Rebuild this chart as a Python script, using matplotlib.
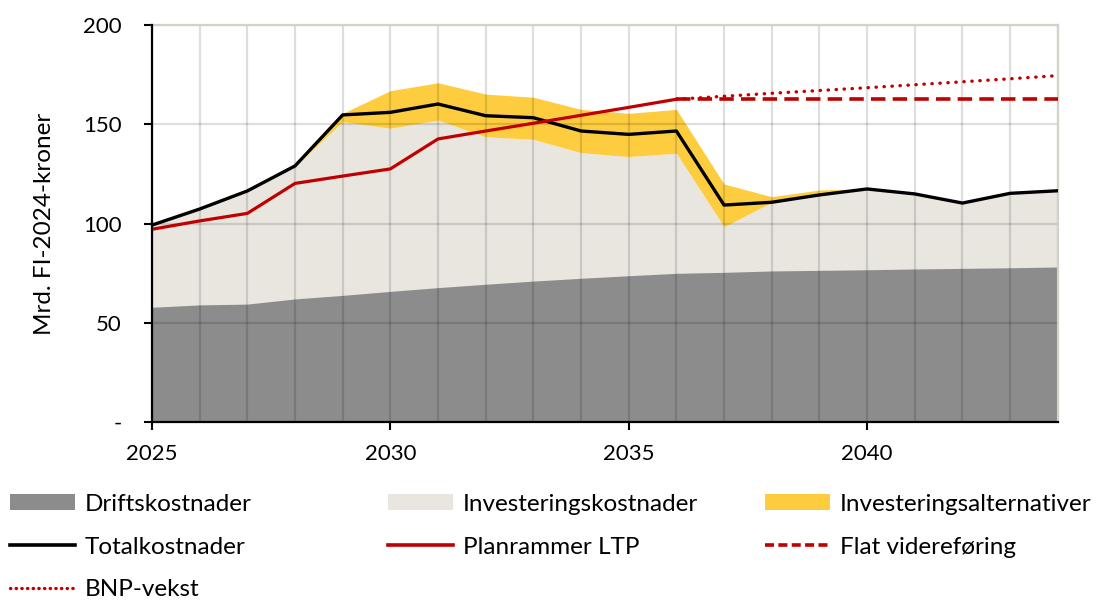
import matplotlib
matplotlib.use('Agg')
import matplotlib.pyplot as plt
from matplotlib.patches import Patch
from matplotlib.lines import Line2D

plt.rcParams['font.family'] = ['Lato', 'DejaVu Sans']

years = list(range(2025, 2045))
drift = [57.8, 59.0, 59.4, 62.0, 63.8, 65.8, 67.7, 69.4, 71.0, 72.4,
         73.7, 74.9, 75.4, 76.1, 76.4, 76.7, 77.1, 77.4, 77.7, 78.1]
invest_top = [99.2, 107.3, 116.4, 129.0, 151.3, 148.0, 152.1, 143.7, 142.4, 135.7,
              133.7, 135.4, 98.4, 110.7, 114.4, 117.4, 114.9, 110.3, 115.2, 116.5]
alt_top = [99.2, 107.3, 116.4, 129.0, 155.5, 166.9, 170.9, 165.2, 163.6, 157.5,
           155.5, 157.5, 119.9, 113.5, 116.9, 117.4, 114.9, 110.3, 115.2, 116.5]
total = [99.2, 107.3, 116.4, 129.0, 154.7, 156.0, 160.2, 154.3, 153.3, 146.6,
         144.9, 146.6, 109.3, 110.7, 114.4, 117.4, 114.9, 110.3, 115.2, 116.5]

ltp_years = list(range(2025, 2037))
ltp = [97.1, 101.3, 105.1, 120.2, 123.9, 127.5, 142.6, 146.6, 150.5, 154.5, 158.5, 162.6]

ext_years = list(range(2036, 2045))
flat = [162.6] * 9
bnp = [162.6, 164.1, 165.6, 167.0, 168.4, 169.9, 171.4, 172.9, 174.5]

c_drift = '#8c8c8c'
c_inv = '#e8e6df'
c_alt = '#fdcd3f'
c_red = '#c00000'

fig = plt.figure(figsize=(11.03, 6.01), dpi=100)
ax = fig.add_axes([0.1378, 0.2978, 0.8212, 0.6606])

ax.fill_between(years, 0, invest_top, color=c_inv, lw=0, zorder=1)
ax.fill_between(years, invest_top, alt_top, color=c_alt, lw=0, zorder=1)
ax.fill_between(years, 0, drift, color=c_drift, lw=0, zorder=1.5)

ax.plot(years, total, color='black', lw=2.4, zorder=4)
ax.plot(ltp_years, ltp, color=c_red, lw=2.3, zorder=4)
ax.plot(ext_years, flat, color=c_red, lw=2.6, ls=(0, (4, 2)), zorder=4)
ax.plot(ext_years, bnp, color=c_red, lw=2.4, ls=(0, (0.1, 2.3)),
        dash_capstyle='round', zorder=4)

ax.set_xlim(2025, 2044)
ax.set_ylim(0, 200)
ax.set_xticks([2025, 2030, 2035, 2040])
ax.set_xticks(years, minor=True)
ax.set_yticks([0, 50, 100, 150, 200])
ax.set_yticklabels(['-', '50', '100', '150', '200'])
ax.grid(True, which='both', color='black', alpha=0.13, lw=1.6)
for gl in ax.get_xgridlines() + ax.get_ygridlines():
    gl.set_zorder(2)
ax.tick_params(axis='both', which='major', labelsize=16, length=6, width=1.5,
               direction='out')
ax.tick_params(axis='x', which='major', pad=10)
ax.tick_params(axis='y', which='major', pad=16)
ax.tick_params(axis='x', which='minor', length=0)
ax.set_ylabel('Mrd. FI-2024-kroner', fontsize=17.5, labelpad=20)

for s in ['left', 'bottom']:
    ax.spines[s].set_color('black')
    ax.spines[s].set_linewidth(1.6)
    ax.spines[s].set_zorder(5)
for s in ['top', 'right']:
    ax.spines[s].set_color('#d4d1c8')
    ax.spines[s].set_linewidth(1.6)

h_drift = Patch(facecolor=c_drift, label='Driftskostnader')
h_inv = Patch(facecolor=c_inv, label='Investeringskostnader')
h_alt = Patch(facecolor=c_alt, label='Investeringsalternativer')
h_tot = Line2D([], [], color='black', lw=2.6, label='Totalkostnader')
h_ltp = Line2D([], [], color=c_red, lw=2.6, label='Planrammer LTP')
h_flat = Line2D([], [], color=c_red, lw=2.6, ls=(0, (2.5, 1.2)), label='Flat videreføring')
h_bnp = Line2D([], [], color=c_red, lw=2.4, ls=(0, (0.1, 1.6)),
               dash_capstyle='round', label='BNP-vekst')

columns = [([h_drift, h_tot, h_bnp], 0.0),
           ([h_inv, h_ltp], 0.343),
           ([h_alt, h_flat], 0.6848)]
for handles, x0 in columns:
    fig.legend(handles=handles, loc='upper left', bbox_to_anchor=(x0, 0.1947),
               frameon=False, fontsize=17.5, handlelength=2.67, handleheight=0.6,
               handletextpad=0.41, labelspacing=0.9, borderaxespad=0, borderpad=0.4)

fig.savefig('out.png', dpi=100)
